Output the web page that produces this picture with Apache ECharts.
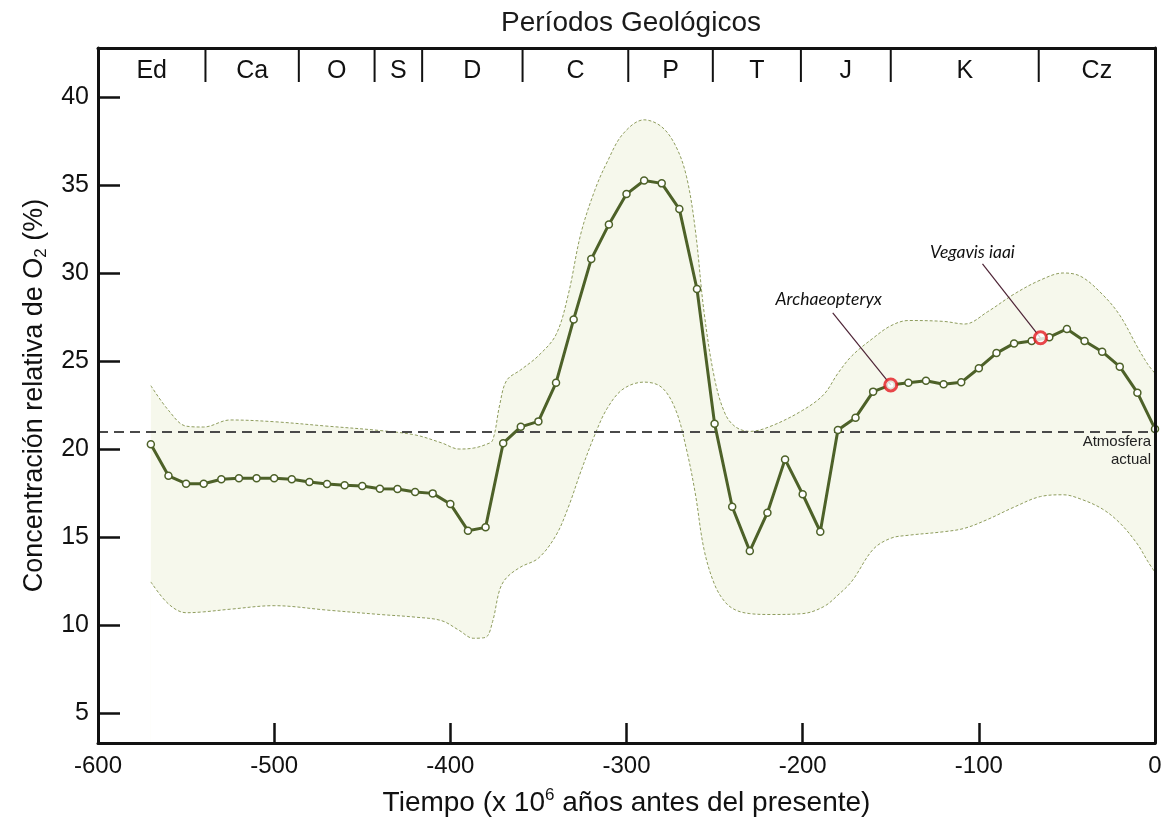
<!DOCTYPE html>
<html><head><meta charset="utf-8">
<script src="https://cdn.jsdelivr.net/npm/echarts@6/dist/echarts.min.js"></script>
<style>html,body{margin:0;padding:0;background:#fff}#c{width:1165px;height:827px}</style>
</head><body><div id="c"></div>
<script>
// ---- data ----
const years = [-570,-560,-550,-540,-530,-520,-510,-500,-490,-480,-470,-460,-450,-440,-430,-420,-410,-400,-390,-380,
  -370,-360,-350,-340,-330,-320,-310,-300,-290,-280,-270,-260,-250,-240,-230,-220,-210,-200,-190,-180,
  -170,-160,-150,-140,-130,-120,-110,-100,-90,-80,-70,-60,-50,-40,-30,-20,-10,0];
const o2 = [20.27,18.48,18.03,18.03,18.28,18.34,18.34,18.34,18.28,18.13,18.01,17.94,17.9,17.74,17.73,17.56,17.48,16.88,15.36,15.55,
  20.33,21.26,21.57,23.76,27.36,30.79,32.76,34.48,35.25,35.09,33.63,29.09,21.44,16.72,14.2,16.38,19.41,17.43,15.3,21.08,
  21.78,23.26,23.64,23.77,23.88,23.68,23.79,24.59,25.45,26.0,26.14,26.35,26.82,26.14,25.53,24.68,23.2,21.14];

const bandYears = [-570,-560,-550,-540,-525,-500,-470,-440,-420,-405,-395,-387,-380,-376,-372,-368,-360,-350,-340,-333,
  -326,-318,-311,-302,-290,-280,-272,-266,-261,-256,-250,-244,-238,-230,-218,-200,-188,-180,-172,-160,
  -150,-140,-120,-108,-95,-80,-65,-52,-42,-30,-20,-10,-4,0];
const bandUpper = [23.6,22.2,21.3,21.25,21.65,21.55,21.3,21.05,20.8,20.35,20.0,20.05,20.25,20.5,22.5,23.9,24.5,25.3,26.5,28.8,
  32.2,34.7,36.3,37.9,38.7,38.3,37.2,35.5,32.5,27.8,24.0,22.0,21.25,21.0,21.3,22.2,23.1,24.3,25.3,26.3,
  27.0,27.3,27.25,27.1,27.8,28.8,29.6,30.0,29.8,28.8,27.6,25.8,24.8,24.3];
const bandLower = [12.45,11.2,10.7,10.75,10.9,11.1,10.85,10.6,10.45,10.25,9.7,9.25,9.3,10.2,12.0,12.7,13.3,13.8,15.1,16.7,
  18.7,20.8,22.3,23.4,23.8,23.5,22.2,20.0,17.5,14.3,12.3,11.3,10.85,10.65,10.6,10.65,11.05,11.7,12.5,14.3,
  14.93,15.1,15.3,15.5,16.0,16.7,17.3,17.4,17.15,16.6,15.8,14.6,13.6,13.0];

const periodNames = ['Ed','Ca','O','S','D','C','P','T','J','K','Cz'];
const periodBounds = [-600,-539,-486,-443,-416,-359,-299,-251,-201,-150,-66,0];

const fossilNames = ['Archaeopteryx','Vegavis iaai'];
const fossilYears = [-150,-65];
const fossilO2 = [23.64,26.32];

const presentO2 = 21;
const yTickStep = 5;   // y ticks 5, 10, ... 40
const xTickStep = 100; // x ticks -600 ... 0

// ---- chart ----
const FONT = "'Liberation Sans', Arial, sans-serif";
const OLIVE = '#4d6128';
const Y_MIN = 3.3, Y_MAX = 42.78;
const chart = echarts.init(document.getElementById('c'), null, {renderer:'canvas'});

const periodData = periodNames.map((n,i)=>[periodBounds[i], periodBounds[i+1], n]);
const frameLine = {show:true, onZero:false, lineStyle:{color:'#111', width:3}};

const option = {
  animation:false,
  backgroundColor:'#fff',
  title:{text:'Períodos Geológicos', left:626, top:4, textAlign:'center',
    textStyle:{fontFamily:FONT, fontSize:28, fontWeight:'normal', color:'#1a1a1a'}},
  grid:{left:98, right:10, top:48, bottom:84},
  xAxis:[{type:'value', min:-600, max:0, interval:xTickStep, z:10,
    axisLine:frameLine, splitLine:{show:false},
    axisTick:{show:true, inside:true, length:20, lineStyle:{color:'#111', width:2.5}},
    axisLabel:{fontFamily:FONT, fontSize:24, color:'#111', margin:11},
    name:'Tiempo (x 10{sup|6} años antes del presente)', nameLocation:'middle', nameGap:44,
    nameTextStyle:{fontFamily:FONT, fontSize:28, color:'#111', lineHeight:32,
      rich:{sup:{fontFamily:FONT, fontSize:17, color:'#111', lineHeight:22, verticalAlign:'top'}}}
  },{type:'value', position:'top', min:-600, max:0, interval:xTickStep, z:10,
    axisLine:frameLine, axisTick:{show:false}, axisLabel:{show:false}, splitLine:{show:false}}],
  yAxis:[{type:'value', position:'left', min:Y_MIN, max:Y_MAX, splitNumber:8, z:10,
    axisLine:frameLine, splitLine:{show:false},
    axisTick:{show:true, inside:true, length:22, lineStyle:{color:'#111', width:2.5}},
    axisLabel:{fontFamily:FONT, fontSize:25, color:'#111', margin:9, showMinLabel:false, showMaxLabel:false,
      formatter:function(v){ return (Math.abs(v/yTickStep - Math.round(v/yTickStep))<1e-6) ? String(v) : ''; }},
    name:'Concentración relativa de O{sub|2} (%)', nameLocation:'middle', nameGap:44,
    nameTextStyle:{fontFamily:FONT, fontSize:27, color:'#111', lineHeight:32,
      rich:{sub:{fontFamily:FONT, fontSize:17, color:'#111', lineHeight:18, verticalAlign:'bottom'}}}
  },{type:'value', position:'right', min:Y_MIN, max:Y_MAX, z:10,
    axisLine:frameLine, axisTick:{show:false}, axisLabel:{show:false}, splitLine:{show:false}}],
  series:[
    {type:'line', name:'upper', smooth:0.35, symbol:'none', silent:true,
      data:bandYears.map((x,i)=>[x, bandUpper[i]]),
      lineStyle:{color:'#8f9d5e', width:1, type:[3,2]},
      areaStyle:{color:'#f6f8ec', opacity:1, origin:'start'}, z:1},
    {type:'line', name:'lower', smooth:0.35, symbol:'none', silent:true,
      data:bandYears.map((x,i)=>[x, bandLower[i]]),
      lineStyle:{color:'#8f9d5e', width:1, type:[3,2]},
      areaStyle:{color:'#ffffff', opacity:1, origin:'start'}, z:2},
    {type:'line', name:'O2', data:years.map((x,i)=>[x, o2[i]]), color:OLIVE,
      lineStyle:{color:OLIVE, width:3}, symbol:'circle', symbolSize:7,
      itemStyle:{color:'#fff', borderColor:OLIVE, borderWidth:1.5}, z:5,
      markLine:{silent:true, symbol:'none', data:[{yAxis:presentO2}],
        lineStyle:{color:'#4a4a4a', width:2, type:[10,6]},
        label:{show:true, position:'insideEndBottom', formatter:'Atmosfera\nactual', fontFamily:FONT, fontSize:15,
          color:'#222', align:'right', lineHeight:18, distance:[4,1]}, z:3}
    },
    {type:'custom', name:'annot', silent:true, z:6,
      data:fossilYears.map((x,i)=>[x, fossilO2[i], fossilNames[i]]),
      renderItem:function(params, api){
        const p = api.coord([api.value(0), api.value(1)]);
        const i = params.dataIndex;
        const off = i===0 ? {lx:-58, ly:-72, tx:-62, ty:-86} : {lx:-58, ly:-74, tx:-68, ty:-85};
        return {type:'group', children:[
          {type:'line', shape:{x1:p[0], y1:p[1], x2:p[0]+off.lx, y2:p[1]+off.ly},
            style:{stroke:'#4e2436', lineWidth:1.2}},
          {type:'text', x:p[0]+off.tx, y:p[1]+off.ty,
            style:{text:fossilNames[i], fontFamily:'Lato, "Open Sans", sans-serif', fontStyle:'italic', fontSize:17.5,
              fill:'#111', align:'center', verticalAlign:'middle'}}
        ]};
      }
    },
    {type:'scatter', name:'fossils', data:fossilYears.map((x,i)=>[x, fossilO2[i]]), symbol:'circle', symbolSize:12,
      itemStyle:{color:'#fff', borderColor:'#e3191f', borderWidth:3}, z:7, silent:true},
    {type:'custom', name:'periods', silent:true, z:8, clip:false,
      data:periodData,
      renderItem:function(params, api){
        const s = api.value(0), e = api.value(1);
        const i = params.dataIndex;
        const c = api.coord([(s+e)/2, 41.45]);
        const children = [
          {type:'text', x:c[0], y:c[1], style:{text:periodNames[i], fontFamily:FONT, fontSize:25, fill:'#111',
            align:'center', verticalAlign:'middle'}}
        ];
        if (e < 0) {
          const a = api.coord([e, Y_MAX]); const b = api.coord([e, 40.85]);
          children.push({type:'line', shape:{x1:a[0], y1:a[1], x2:b[0], y2:b[1]}, style:{stroke:'#111', lineWidth:2}});
        }
        return {type:'group', children};
      }
    }
  ]
};
chart.setOption(option);
</script></body></html>
